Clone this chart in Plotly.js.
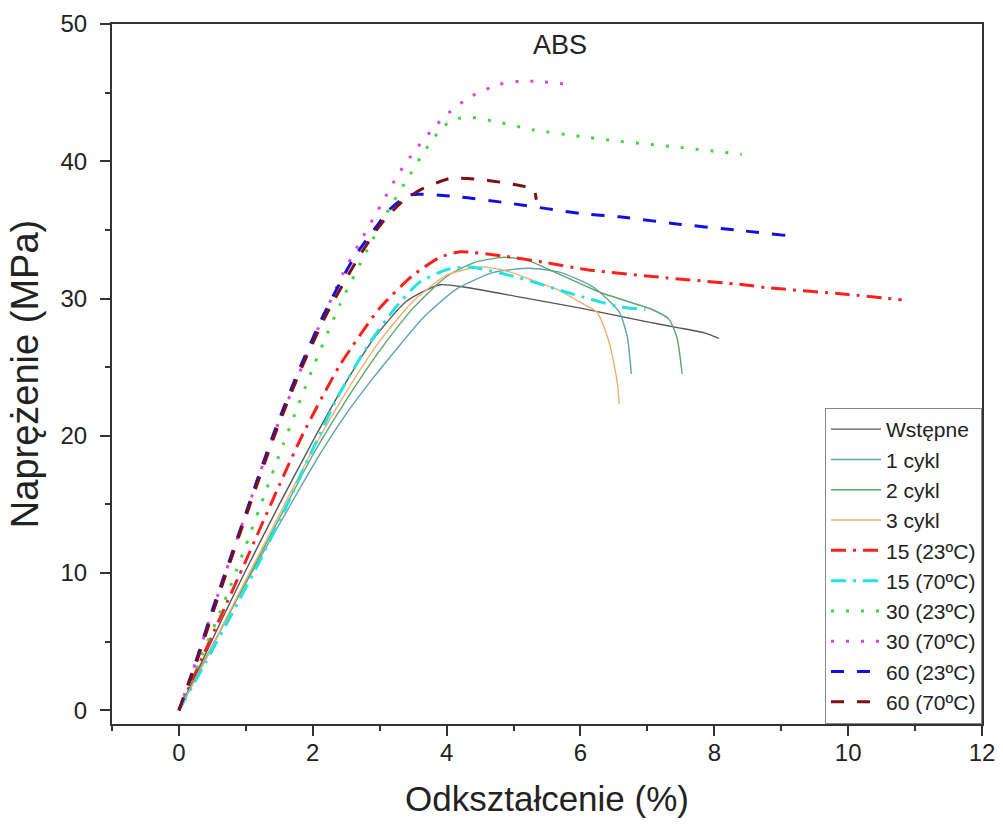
<!DOCTYPE html>
<html>
<head>
<meta charset="utf-8">
<script src="https://cdn.plot.ly/plotly-3.0.1.min.js"></script>
<style>html,body{margin:0;padding:0;background:#fff;}#chart{width:1003px;height:836px;}</style>
</head>
<body>
<div id="chart"></div>
<script>
// Series names
var seriesNames = ["Wstępne", "1 cykl", "2 cykl", "3 cykl", "15 (23ºC)", "15 (70ºC)", "30 (23ºC)", "30 (70ºC)", "60 (23ºC)", "60 (70ºC)"];

// Wstępne
var wstepneX = [0, 0.35, 0.67, 1.0, 1.5, 2.0, 2.4, 2.9, 3.4, 3.9, 4.3, 5.1, 6.0, 7.0, 7.43, 7.85, 8.07];
var wstepneY = [0, 3.6, 6.9, 10.2, 15.0, 19.6, 23.1, 27.0, 29.8, 31.0, 30.8, 30.1, 29.3, 28.3, 27.9, 27.5, 27.1];

// 1 cykl
var cykl1X = [0, 0.4, 0.8, 1.2, 1.6, 2.1, 2.5, 2.9, 3.3, 3.65, 4.15, 4.7, 5.24, 5.7, 6.2, 6.58, 6.7, 6.76];
var cykl1Y = [0, 3.8, 7.5, 11.0, 14.4, 18.6, 21.6, 24.2, 26.6, 28.6, 30.7, 31.9, 32.2, 31.9, 30.8, 29.0, 27.2, 24.5];

// 2 cykl
var cykl2X = [0, 0.4, 0.8, 1.2, 1.6, 2.0, 2.5, 3.0, 3.5, 4.0, 4.4, 4.84, 5.2, 5.58, 6.32, 7.07, 7.32, 7.44, 7.52];
var cykl2Y = [0, 3.7, 7.5, 11.2, 14.9, 18.6, 22.6, 26.2, 29.3, 31.6, 32.6, 33.0, 32.8, 32.0, 30.4, 29.2, 28.5, 27.2, 24.5];

// 3 cykl
var cykl3X = [0, 0.4, 0.8, 1.2, 1.6, 2.0, 2.5, 3.0, 3.5, 4.0, 4.5, 4.9, 5.3, 5.68, 6.08, 6.25, 6.43, 6.55, 6.58];
var cykl3Y = [0, 3.7, 7.6, 11.4, 15.2, 19.0, 23.2, 26.9, 29.8, 31.7, 32.3, 32.0, 31.3, 30.6, 29.5, 29.0, 26.8, 23.9, 22.3];

// 15 (23ºC)
var s15aX = [0, 0.3, 0.63, 1.0, 1.5, 1.86, 2.4, 3.0, 3.5, 3.9, 4.2, 4.84, 5.5, 6.1, 7.3, 8.44, 8.76, 10.0, 10.8];
var s15aY = [0, 3.3, 6.9, 10.9, 16.4, 20.2, 25.1, 29.3, 31.7, 33.0, 33.4, 33.1, 32.6, 32.1, 31.5, 31.0, 30.8, 30.3, 29.9];

// 15 (70ºC)
var s15bX = [0, 0.4, 0.8, 1.2, 1.6, 2.0, 2.37, 2.8, 3.23, 3.6, 4.0, 4.35, 5.09, 5.83, 6.58, 6.97];
var s15bY = [0, 3.5, 7.1, 10.8, 14.8, 19.0, 22.8, 26.4, 29.3, 31.2, 32.1, 32.3, 31.5, 30.4, 29.4, 29.2];

// 30 (23ºC)
var s30aX = [0, 0.3, 0.67, 1.0, 1.27, 1.56, 1.99, 2.41, 2.81, 3.15, 3.45, 3.68, 3.94, 4.15, 4.37, 4.82, 5.28, 6.01, 6.5, 7.5, 8.41];
var s30aY = [0, 3.5, 7.8, 12.0, 15.6, 19.4, 24.8, 29.6, 33.5, 36.6, 39.0, 40.8, 42.5, 43.1, 43.2, 42.8, 42.3, 41.8, 41.5, 41.0, 40.5];

// 30 (70ºC)
var s30bX = [0, 0.25, 0.52, 0.92, 1.41, 1.7, 2.07, 2.46, 2.68, 3.04, 3.27, 3.53, 3.82, 4.0, 4.35, 4.79, 5.13, 5.39, 5.86];
var s30bY = [0, 3.5, 7.5, 13.2, 20.0, 23.4, 27.7, 31.9, 33.9, 37.0, 39.0, 40.8, 42.5, 43.4, 44.7, 45.6, 45.85, 45.8, 45.6];

// 60 (23ºC)
var s60aX = [0, 0.25, 0.52, 0.92, 1.2, 1.45, 1.82, 2.16, 2.49, 2.66, 2.96, 3.15, 3.45, 4.2, 5.0, 6.0, 6.58, 7.5, 8.3, 9.06];
var s60aY = [0, 3.5, 7.6, 13.2, 17.2, 20.6, 25.1, 28.8, 31.9, 33.3, 35.3, 36.5, 37.55, 37.4, 36.9, 36.2, 35.95, 35.4, 35.0, 34.6];

// 60 (70ºC)
var s60bX = [0, 0.25, 0.52, 0.92, 1.45, 1.82, 2.2, 2.66, 3.0, 3.3, 3.6, 4.05, 4.45, 4.84, 5.13, 5.3, 5.34];
var s60bY = [0, 3.3, 7.3, 13.0, 20.3, 24.8, 28.8, 32.8, 35.3, 36.9, 37.9, 38.75, 38.7, 38.45, 38.2, 38.0, 37.2];

var xTickVals = [0, 2, 4, 6, 8, 10, 12];
var yTickVals = [0, 10, 20, 30, 40, 50];

var xs = [wstepneX, cykl1X, cykl2X, cykl3X, s15aX, s15bX, s30aX, s30bX, s60aX, s60bX];
var ys = [wstepneY, cykl1Y, cykl2Y, cykl3Y, s15aY, s15bY, s30aY, s30bY, s60aY, s60bY];
var styles = [
  {color: "#555555", width: 1.4, dash: "solid"},
  {color: "#5fa3ac", width: 1.4, dash: "solid"},
  {color: "#5aa66c", width: 1.4, dash: "solid"},
  {color: "#f5ad70", width: 1.4, dash: "solid"},
  {color: "#ff1f1f", width: 3, dash: "15px,7px,3px,7px"},
  {color: "#22e2e2", width: 3, dash: "15px,7px,3px,7px"},
  {color: "#3fd83f", width: 3, dash: "3px,12px"},
  {color: "#e040e0", width: 3, dash: "3px,12px"},
  {color: "#1010e0", width: 3, dash: "13px,13px"},
  {color: "#7d1010", width: 3, dash: "13px,13px"}
];

var traces = [];
for (var i = 0; i < seriesNames.length; i++) {
  traces.push({
    x: xs[i], y: ys[i], name: seriesNames[i], type: "scatter", mode: "lines",
    line: {color: styles[i].color, width: styles[i].width, dash: styles[i].dash, shape: "spline", smoothing: 0.6}
  });
}

var fontFam = "Liberation Sans, Arial, sans-serif";
var axisCommon = {
  showline: true, mirror: true, linecolor: "#333", linewidth: 2,
  ticks: "outside", ticklen: 10, tickwidth: 2, tickcolor: "#333",
  showgrid: false, zeroline: false,
  tickfont: {family: fontFam, size: 24, color: "#222"}
};

var layout = {
  width: 1003, height: 836,
  margin: {l: 112, r: 21, t: 24, b: 112},
  paper_bgcolor: "#fff", plot_bgcolor: "#fff",
  font: {family: fontFam, color: "#222"},
  showlegend: true,
  legend: {
    x: 1, xanchor: "right", y: 0, yanchor: "bottom",
    bgcolor: "#fff", bordercolor: "#888", borderwidth: 1,
    font: {family: fontFam, size: 21, color: "#222"},
    itemwidth: 50
  },
  xaxis: Object.assign({}, axisCommon, {
    range: [-1, 12], tickvals: xTickVals, ticklabelstandoff: -4,
    minor: {dtick: 1, ticks: "outside", ticklen: 5, tickwidth: 2, tickcolor: "#333", showgrid: false},
    title: {text: "Odkształcenie (%)", font: {family: fontFam, size: 35, color: "#222"}, standoff: 22}
  }),
  yaxis: Object.assign({}, axisCommon, {
    range: [-1, 50], tickvals: yTickVals, ticklabelstandoff: 8,
    minor: {dtick: 5, ticks: "outside", ticklen: 5, tickwidth: 2, tickcolor: "#333", showgrid: false},
    title: {text: "Naprężenie (MPa)", font: {family: fontFam, size: 38, color: "#222"}, standoff: 10}
  }),
  annotations: [{
    text: "ABS", x: 5.7, y: 48.5, xref: "x", yref: "y", showarrow: false,
    font: {family: fontFam, size: 27, color: "#222"}
  }]
};

Plotly.newPlot("chart", traces, layout, {displayModeBar: false, staticPlot: true});
</script>
</body>
</html>
